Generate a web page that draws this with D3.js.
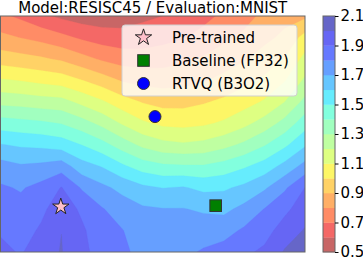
<!DOCTYPE html>
<html>
<head>
<meta charset="utf-8">
<script src="https://cdn.jsdelivr.net/npm/d3@7"></script>
<style>
  body { margin: 0; background: #fff; }
  text { font-family: "DejaVu Sans", sans-serif; }
</style>
</head>
<body>
<div id="chart"></div>
<script>
// contour levels and colorbar ticks
const levels = [0.5, 0.6, 0.7, 0.8, 0.9, 1.0, 1.1, 1.2, 1.3, 1.4, 1.5, 1.6, 1.7, 1.8, 1.9, 2.0, 2.1];
const cbarTicks = [0.5, 0.7, 0.9, 1.1, 1.3, 1.5, 1.7, 1.9, 2.1];

// loss surface, 16 columns x 12 rows, listed from the top row down
const zRows = [
    [0.72, 0.68, 0.62, 0.58, 0.55, 0.54, 0.55, 0.58, 0.60, 0.63, 0.67, 0.72, 0.77, 0.82, 0.87, 0.88],
    [0.825, 0.797, 0.768, 0.727, 0.684, 0.653, 0.638, 0.646, 0.669, 0.693, 0.734, 0.779, 0.818, 0.875, 0.921, 1.036],
    [0.953, 0.935, 0.914, 0.885, 0.835, 0.786, 0.756, 0.749, 0.757, 0.779, 0.811, 0.848, 0.89, 0.941, 1.004, 1.13],
    [1.111, 1.095, 1.072, 1.053, 1.003, 0.949, 0.89, 0.865, 0.859, 0.868, 0.89, 0.928, 0.971, 1.018, 1.093, 1.217],
    [1.27, 1.26, 1.245, 1.234, 1.173, 1.113, 1.043, 0.993, 0.967, 0.969, 0.99, 1.02, 1.058, 1.111, 1.199, 1.328],
    [1.448, 1.433, 1.418, 1.395, 1.341, 1.272, 1.188, 1.116, 1.077, 1.07, 1.084, 1.115, 1.171, 1.242, 1.335, 1.455],
    [1.605, 1.585, 1.576, 1.552, 1.498, 1.434, 1.352, 1.275, 1.231, 1.214, 1.228, 1.267, 1.321, 1.391, 1.478, 1.586],
    [1.74, 1.712, 1.723, 1.752, 1.641, 1.594, 1.517, 1.452, 1.418, 1.412, 1.41, 1.44, 1.486, 1.544, 1.632, 1.735],
    [1.813, 1.791, 1.83, 1.905, 1.79, 1.724, 1.671, 1.62, 1.597, 1.608, 1.576, 1.585, 1.623, 1.685, 1.784, 1.902],
    [1.85, 1.831, 1.88, 1.949, 1.885, 1.807, 1.752, 1.715, 1.704, 1.704, 1.686, 1.676, 1.728, 1.803, 1.876, 1.955],
    [1.887, 1.865, 1.912, 1.999, 1.915, 1.846, 1.804, 1.744, 1.722, 1.742, 1.756, 1.762, 1.816, 1.861, 1.947, 2.008],
    [1.93, 1.89, 1.96, 2.005, 1.92, 1.87, 1.82, 1.77, 1.74, 1.78, 1.81, 1.84, 1.88, 1.92, 2.01, 2.06]
];

// markers (grid units, y counted from the bottom row)
const markerNames = ['Pre-trained', 'Baseline (FP32)', 'RTVQ (B3O2)'];
const markerX = [2.97, 10.6, 7.61];
const markerY = [2.11, 2.16, 6.31];

const nx = zRows[0].length, ny = zRows.length;
const W = 363, H = 261;
const plot = {left: 0.5, right: 305, top: 16, bottom: 252};

// jet colormap (reversed below), blended over white at alpha 0.6
const jetSeg = {
    r: [[0, 0], [0.35, 0], [0.66, 1], [0.89, 1], [1, 0.5]],
    g: [[0, 0], [0.125, 0], [0.375, 1], [0.64, 1], [0.91, 0], [1, 0]],
    b: [[0, 0.5], [0.11, 1], [0.34, 1], [0.65, 0], [1, 0]]
};
const seg = (pts, t) => {
    for (let i = 1; i < pts.length; i++) {
        if (t <= pts[i][0]) {
            let f = (t - pts[i-1][0]) / (pts[i][0] - pts[i-1][0]);
            return pts[i-1][1] + f * (pts[i][1] - pts[i-1][1]);
        }
    }
    return pts[pts.length-1][1];
};
const alpha = 0.6;
const bandColor = (v) => {
    let t = 1 - (v - levels[0]) / (levels[levels.length-1] - levels[0]);
    let c = ['r', 'g', 'b'].map(k => Math.round(255 * (1 - alpha) + 255 * alpha * seg(jetSeg[k], t)));
    return `rgb(${c[0]},${c[1]},${c[2]})`;
};

let svg = d3.select('#chart')
            .append('svg')
                .attr('width', W)
                .attr('height', H);

let xScale = d3.scaleLinear().domain([0, nx - 1]).range([plot.left, plot.right]);
let yScale = d3.scaleLinear().domain([0, ny - 1]).range([plot.bottom, plot.top]);

svg.append('clipPath')
    .attr('id', 'plotclip')
    .append('rect')
        .attr('x', plot.left)
        .attr('y', plot.top)
        .attr('width', plot.right - plot.left)
        .attr('height', plot.bottom - plot.top);

// contour bands
let values = [];
zRows.forEach(row => row.forEach(v => values.push(v)));

let contours = d3.contours()
                 .size([nx, ny])
                 .thresholds(levels.slice(0, -1))(values);

let proj = d3.geoTransform({
    point: function(x, y) {
        this.stream.point(xScale(x - 0.5), yScale(ny - 1 - (y - 0.5)));
    }
});
let path = d3.geoPath(proj);

svg.append('g')
    .attr('clip-path', 'url(#plotclip)')
    .selectAll('path')
    .data(contours)
    .enter()
    .append('path')
        .attr('d', path)
        .attr('fill', (d, i) => bandColor((levels[i] + levels[i+1]) / 2))
        .attr('stroke', (d, i) => bandColor((levels[i] + levels[i+1]) / 2))
        .attr('stroke-width', 0.3);

svg.append('rect')
    .attr('x', plot.left)
    .attr('y', plot.top)
    .attr('width', plot.right - plot.left)
    .attr('height', plot.bottom - plot.top)
    .attr('fill', 'none')
    .attr('stroke', '#666')
    .attr('stroke-width', 1);

// markers
const starPath = (cx, cy, R) => {
    let r = R * 0.381966, pts = [];
    for (let k = 0; k < 10; k++) {
        let a = -Math.PI / 2 + k * Math.PI / 5;
        let rr = k % 2 == 0 ? R : r;
        pts.push([cx + rr * Math.cos(a), cy + rr * Math.sin(a)]);
    }
    return 'M' + pts.map(p => p.join(',')).join('L') + 'Z';
};

const drawMarker = (g, k, cx, cy) => {
    if (k == 0) {
        g.append('path')
            .attr('d', starPath(cx, cy, 8.6))
            .attr('fill', 'pink')
            .attr('stroke', '#222')
            .attr('stroke-width', 1);
    } else if (k == 1) {
        g.append('rect')
            .attr('x', cx - 5.8)
            .attr('y', cy - 5.8)
            .attr('width', 11.6)
            .attr('height', 11.6)
            .attr('fill', 'green')
            .attr('stroke', '#333')
            .attr('stroke-width', 1);
    } else {
        g.append('circle')
            .attr('cx', cx)
            .attr('cy', cy)
            .attr('r', 6)
            .attr('fill', 'blue')
            .attr('stroke', '#333')
            .attr('stroke-width', 1);
    }
};

let markers = svg.append('g');
markerNames.forEach((n, k) => {
    drawMarker(markers, k, xScale(markerX[k]), yScale(markerY[k]));
});

// legend
let legend = svg.append('g').attr('transform', 'translate(122,25)');
legend.append('rect')
    .attr('width', 175)
    .attr('height', 71)
    .attr('rx', 3)
    .attr('fill', 'rgba(255,255,255,0.8)')
    .attr('stroke', '#d0d0d0')
    .attr('stroke-width', 1);

markerNames.forEach((n, k) => {
    drawMarker(legend, k, 21.5, 12.5 + k * 23);
    legend.append('text')
        .attr('x', 50)
        .attr('y', 12.5 + k * 23 + 5.3)
        .attr('font-size', '15px')
        .text(n);
});

// title
svg.append('text')
    .attr('x', (plot.left + plot.right) / 2)
    .attr('y', 13)
    .style('text-anchor', 'middle')
    .attr('font-size', '15px')
    .text('Model:RESISC45 / Evaluation:MNIST');

// colorbar
let cb = {left: 323, width: 12};
let cbScale = d3.scaleLinear()
                .domain([levels[0], levels[levels.length-1]])
                .range([plot.bottom, plot.top]);

svg.append('g')
    .selectAll('rect')
    .data(levels.slice(0, -1))
    .enter()
    .append('rect')
        .attr('x', cb.left)
        .attr('y', (d, i) => cbScale(levels[i+1]))
        .attr('width', cb.width)
        .attr('height', (d, i) => cbScale(levels[i]) - cbScale(levels[i+1]) + 0.3)
        .attr('fill', (d, i) => bandColor((levels[i] + levels[i+1]) / 2));

svg.append('rect')
    .attr('x', cb.left)
    .attr('y', plot.top)
    .attr('width', cb.width)
    .attr('height', plot.bottom - plot.top)
    .attr('fill', 'none')
    .attr('stroke', '#666')
    .attr('stroke-width', 1);

let cbAxis = d3.axisRight()
               .scale(cbScale)
               .tickValues(cbarTicks)
               .tickSize(3.5)
               .tickPadding(2)
               .tickFormat(d3.format('.1f'));

let cbG = svg.append('g')
    .attr('transform', `translate(${cb.left + cb.width},0)`)
    .call(cbAxis);
cbG.select('.domain').remove();
cbG.selectAll('text')
    .attr('font-size', '15px')
    .attr('font-family', '"DejaVu Sans", sans-serif')
    .attr('fill', '#000');
cbG.selectAll('line').attr('stroke', '#000');
</script>
</body>
</html>
